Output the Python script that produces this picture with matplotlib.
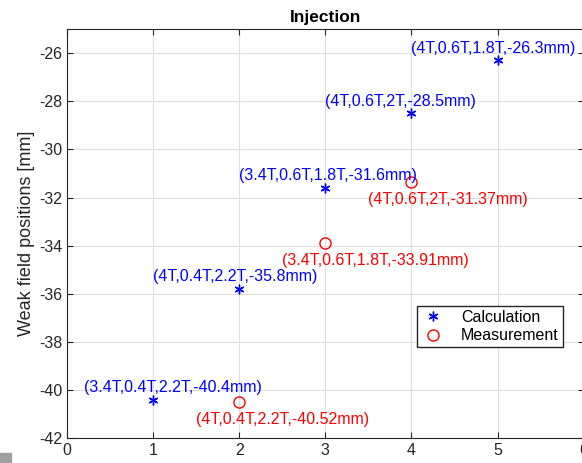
import matplotlib
matplotlib.use("Agg")
import matplotlib.pyplot as plt
from matplotlib.patches import Rectangle

plt.rcParams["font.family"] = ["Liberation Sans", "DejaVu Sans"]
plt.rcParams["axes.unicode_minus"] = False

# calculated weak field positions
calc_x = [1, 2, 3, 4, 5]
calc_y = [-40.4, -35.8, -31.6, -28.5, -26.3]
calc_labels = ["(3.4T,0.4T,2.2T,-40.4mm)", "(4T,0.4T,2.2T,-35.8mm)",
               "(3.4T,0.6T,1.8T,-31.6mm)", "(4T,0.6T,2T,-28.5mm)",
               "(4T,0.6T,1.8T,-26.3mm)"]

# measured weak field positions
meas_x = [2, 3, 4]
meas_y = [-40.52, -33.91, -31.37]
meas_labels = ["(4T,0.4T,2.2T,-40.52mm)", "(3.4T,0.6T,1.8T,-33.91mm)",
               "(4T,0.6T,2T,-31.37mm)"]

xticks = [0, 1, 2, 3, 4, 5, 6]
yticks = [-42, -40, -38, -36, -34, -32, -30, -28, -26]

fig = plt.figure(figsize=(5.82, 4.63), dpi=100)
ax = fig.add_axes([0.115, 0.054, 0.888, 0.883])

ax.plot(calc_x, calc_y, linestyle="none", marker=(6, 2, 0), markersize=7,
        color="blue", markeredgewidth=1.0, label="Calculation")
ax.plot(meas_x, meas_y, linestyle="none", marker="o", markersize=8,
        markerfacecolor="none", markeredgecolor="red", markeredgewidth=1.0,
        label="Measurement")

for i, (x, y, s) in enumerate(zip(calc_x, calc_y, calc_labels)):
    dx = -0.8 if i == 0 else -1.0
    ax.text(x + dx, y + 0.5, s, color="blue", fontsize=11.5,
            ha="left", va="center")
for x, y, s in zip(meas_x, meas_y, meas_labels):
    ax.text(x - 0.5, y - 0.7, s, color="red", fontsize=11.5,
            ha="left", va="center")

ax.set_xlim(0, 6)
ax.set_ylim(-42, -25)
ax.set_xticks(xticks)
ax.set_yticks(yticks)
ax.tick_params(direction="in", top=True, right=True, labelsize=11.5,
               colors="#262626", length=4)
ax.grid(True, color="#dfdfdf", linewidth=0.8)
ax.set_axisbelow(True)
for sp in ax.spines.values():
    sp.set_color("#262626")
    sp.set_linewidth(0.8)

ax.set_title("Injection", fontsize=12.5, fontweight="bold", pad=5)
ax.set_ylabel("Weak field positions [mm]", fontsize=13, color="#262626",
              labelpad=3)

ax.legend(loc="lower right", bbox_to_anchor=(0.959, 0.222), borderaxespad=0,
          fontsize=11.5, fancybox=False, edgecolor="#262626", framealpha=1,
          handlelength=1.5, handletextpad=1.0, borderpad=0.25,
          labelspacing=0.2)

fig.patches.append(Rectangle((0, 0), 11 / 582, 10 / 463, transform=fig.transFigure,
                             color="#a0a0a0", zorder=0))

fig.savefig("out.png", dpi=100)
